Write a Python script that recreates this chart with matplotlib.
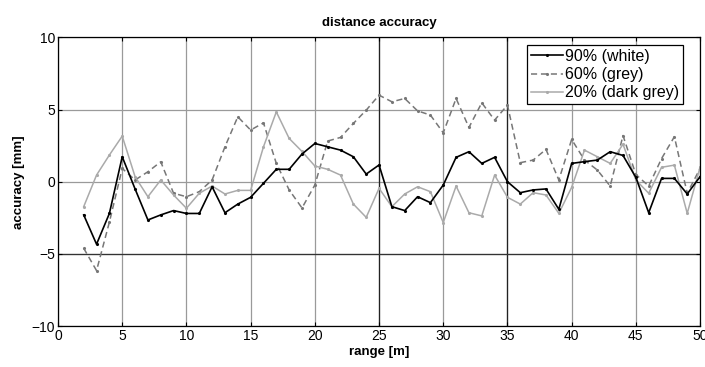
import matplotlib
matplotlib.use("Agg")
import matplotlib.pyplot as plt

plt.rcParams['font.family'] = ['Liberation Sans', 'DejaVu Sans']

range_m = list(range(2, 51))
white_90 = [-2.3, -4.33, -2.2, 1.73, -0.5, -2.65, -2.3, -2.0, -2.2, -2.2,
            -0.35, -2.15, -1.55, -1.08, -0.11, 0.86, 0.86, 1.92, 2.65, 2.42,
            2.19, 1.73, 0.53, 1.16, -1.73, -2.0, -1.04, -1.45, -0.23, 1.69,
            2.08, 1.27, 1.69, 0.0, -0.76, -0.57, -0.5, -1.91, 1.27, 1.39,
            1.5, 2.08, 1.82, 0.3, -2.15, 0.23, 0.23, -0.85, 0.35]
grey_60 = [-4.61, -6.16, -2.8, 0.92, 0.12, 0.69, 1.38, -0.8, -1.04, -0.69,
           0.12, 2.42, 4.5, 3.58, 4.08, 1.27, -0.57, -1.82, -0.23, 2.82,
           3.07, 4.04, 4.96, 6.0, 5.54, 5.77, 4.91, 4.62, 3.39, 5.77,
           3.76, 5.47, 4.27, 5.31, 1.32, 1.5, 2.24, 0.12, 2.93, 1.5,
           0.81, -0.3, 3.2, 0.5, -0.3, 1.6, 3.12, -0.8, 0.92]
dgrey_20 = [-1.73, 0.46, 1.85, 3.16, 0.35, -1.04, 0.12, -0.92, -1.84, -0.8,
            -0.3, -0.85, -0.6, -0.6, 2.42, 4.84, 3.0, 2.1, 1.09, 0.86,
            0.46, -1.55, -2.47, -0.46, -1.73, -0.85, -0.35, -0.69, -2.83, -0.3,
            -2.15, -2.37, 0.46, -1.08, -1.55, -0.76, -0.92, -2.19, -0.39, 2.19,
            1.73, 1.27, 2.6, 0.12, -0.8, 1.0, 1.15, -2.19, 1.0]
labels = ['90% (white)', '60% (grey)', '20% (dark grey)']
xticks = list(range(0, 51, 5))
yticks = [-10, -5, 0, 5, 10]

fig = plt.figure(figsize=(7.05, 3.67), dpi=100)
ax = fig.add_axes([0.0823, 0.1117, 0.9107, 0.7863])

for xv in xticks:
    ax.axvline(xv, color='#9a9a9a', lw=0.9, zorder=0)
for yv in yticks:
    ax.axhline(yv, color='#9a9a9a', lw=0.9, zorder=0)
ax.axvline(25, color='#222222', lw=0.9, zorder=0.5)
ax.axvline(35, color='#222222', lw=0.9, zorder=0.5)
ax.axhline(-5, color='#333333', lw=0.9, zorder=0.5)

ax.plot(range_m, white_90, color='black', lw=1.2, marker='.', ms=2.5, label=labels[0], zorder=3)
ax.plot(range_m, grey_60, color='#777777', lw=1.1, ls=(0, (4, 2.5)), marker='.', ms=2.5, label=labels[1], zorder=2)
ax.plot(range_m, dgrey_20, color='#aaaaaa', lw=1.1, marker='.', ms=2.5, label=labels[2], zorder=2)

ax.set_xlim(0, 50)
ax.set_ylim(-10, 10)
ax.set_xticks(xticks)
ax.set_yticks(yticks)
ax.tick_params(direction='in', labelsize=10, length=3, top=True, right=True, pad=2)
for s in ax.spines.values():
    s.set_linewidth(0.9)

ax.set_title('distance accuracy', fontsize=9.5, fontweight='bold', pad=8)
ax.set_xlabel('range [m]', fontsize=9.5, fontweight='bold', labelpad=2)
ax.set_ylabel('accuracy [mm]', fontsize=9.5, fontweight='bold', labelpad=5)

leg = ax.legend(loc='upper right', bbox_to_anchor=(0.979, 0.985), fontsize=11.5,
                fancybox=False, framealpha=1, edgecolor='black',
                handlelength=2.0, handletextpad=0.15, borderpad=0.25, labelspacing=0.2,
                borderaxespad=0.2)
leg.get_frame().set_linewidth(0.9)

fig.savefig('out.png', dpi=100)
